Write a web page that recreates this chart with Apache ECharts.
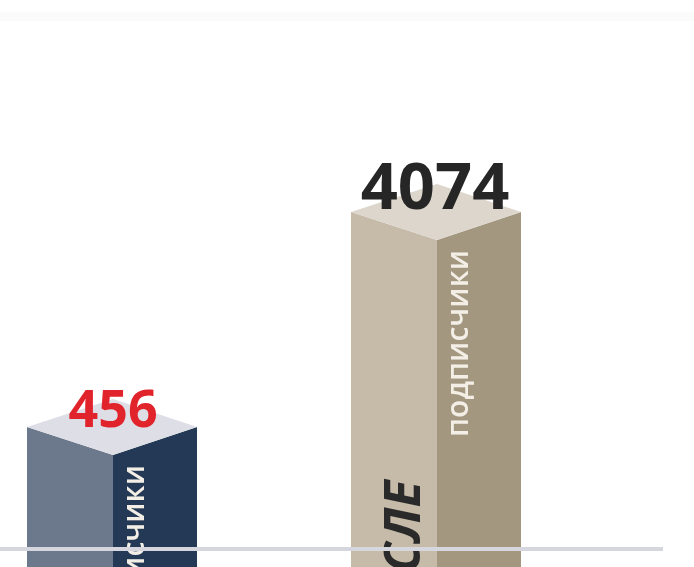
<!DOCTYPE html>
<html>
<head>
<meta charset="utf-8">
<script src="https://cdn.jsdelivr.net/npm/echarts@6/dist/echarts.min.js"></script>
<style>
  html, body { margin: 0; padding: 0; background: #ffffff; }
  #chart { width: 694px; height: 567px; }
</style>
</head>
<body>
<div id="chart"></div>
<script>
// ---- data ----
const categories = ['ДО', 'ПОСЛЕ'];
const subscribers = [456, 4074];
const sideCaptions = ['подписчики', 'подписчики'];
const frontCaptions = ['', 'ПОСЛЕ']; // the left bar's caption lies below the visible crop

// ---- styles ----
const faceColors = [
  { front: '#6c788b', side: '#233955', top: '#dddee6', label: '#e1242b', labelSize: 52 },
  { front: '#c6baa9', side: '#a3977f', top: '#dcd6cc', label: '#262626', labelSize: 65 }
];
const Y_MIN = -2000, Y_MAX = 6000, BASELINE_VALUE = -1117;

function renderItem(params, api) {
  const i = params.dataIndex;
  const xv = api.value(0), v = api.value(1);
  const top = api.coord([xv, v]);
  const base = api.coord([xv, Y_MIN]);
  const baseLine = api.coord([xv, BASELINE_VALUE]);
  const fx = top[0], fy = top[1], by = base[1];
  const wf = 86, ws = 84, d = 28;
  const c = faceColors[i];
  const children = [
    { type: 'polygon', shape: { points: [[fx - wf, fy - d], [fx, fy], [fx, by], [fx - wf, by]] }, style: { fill: c.front } },
    { type: 'polygon', shape: { points: [[fx, fy], [fx + ws, fy - d], [fx + ws, by], [fx, by]] }, style: { fill: c.side } },
    { type: 'polygon', shape: { points: [[fx - wf, fy - d], [fx, fy], [fx + ws, fy - d], [fx, fy - 2 * d]] }, style: { fill: c.top } },
    { type: 'text', x: fx + 22, y: fy + 10, rotation: Math.PI / 2,
      style: { text: sideCaptions[i], fill: '#f3eee6', font: '600 30px "Open Sans"', align: 'right', verticalAlign: 'middle' } },
    { type: 'text', x: fx - 2 * i, y: fy - 42.5 - 7 * i,
      style: { text: String(v), fill: c.label, font: 'bold ' + c.labelSize + 'px "Open Sans"', align: 'center', verticalAlign: 'middle' } }
  ];
  if (frontCaptions[i]) {
    children.push({ type: 'text', x: fx - 31, y: baseLine[1] - 68, rotation: Math.PI / 2,
      style: { text: frontCaptions[i], fill: '#2a2a2a', font: 'italic bold 50px "Open Sans"', align: 'right', verticalAlign: 'middle' } });
  }
  return { type: 'group', children: children };
}

const chart = echarts.init(document.getElementById('chart'));
chart.setOption({
  animation: false,
  backgroundColor: '#ffffff',
  graphic: [{ type: 'rect', left: 0, top: 12, shape: { width: 694, height: 9 }, style: { fill: '#fbfbfb' }, z: 0 }],
  grid: { left: 0, right: 31, top: 125.5, height: 475.5, outerBoundsMode: 'none', containLabel: false },
  xAxis: { type: 'value', min: -0.3488, max: 1.6975, show: false },
  yAxis: { type: 'value', min: Y_MIN, max: Y_MAX, show: false },
  series: [
    {
      type: 'line', data: [], z: 1, silent: true,
      markLine: { symbol: 'none', silent: true, label: { show: false },
        lineStyle: { color: '#d6d6de', width: 4, type: 'solid' },
        data: [{ yAxis: BASELINE_VALUE }] }
    },
    {
      type: 'custom', z: 2, clip: false,
      renderItem: renderItem,
      data: subscribers.map((v, i) => ({ name: categories[i], value: [i, v] }))
    }
  ]
});
</script>
</body>
</html>
